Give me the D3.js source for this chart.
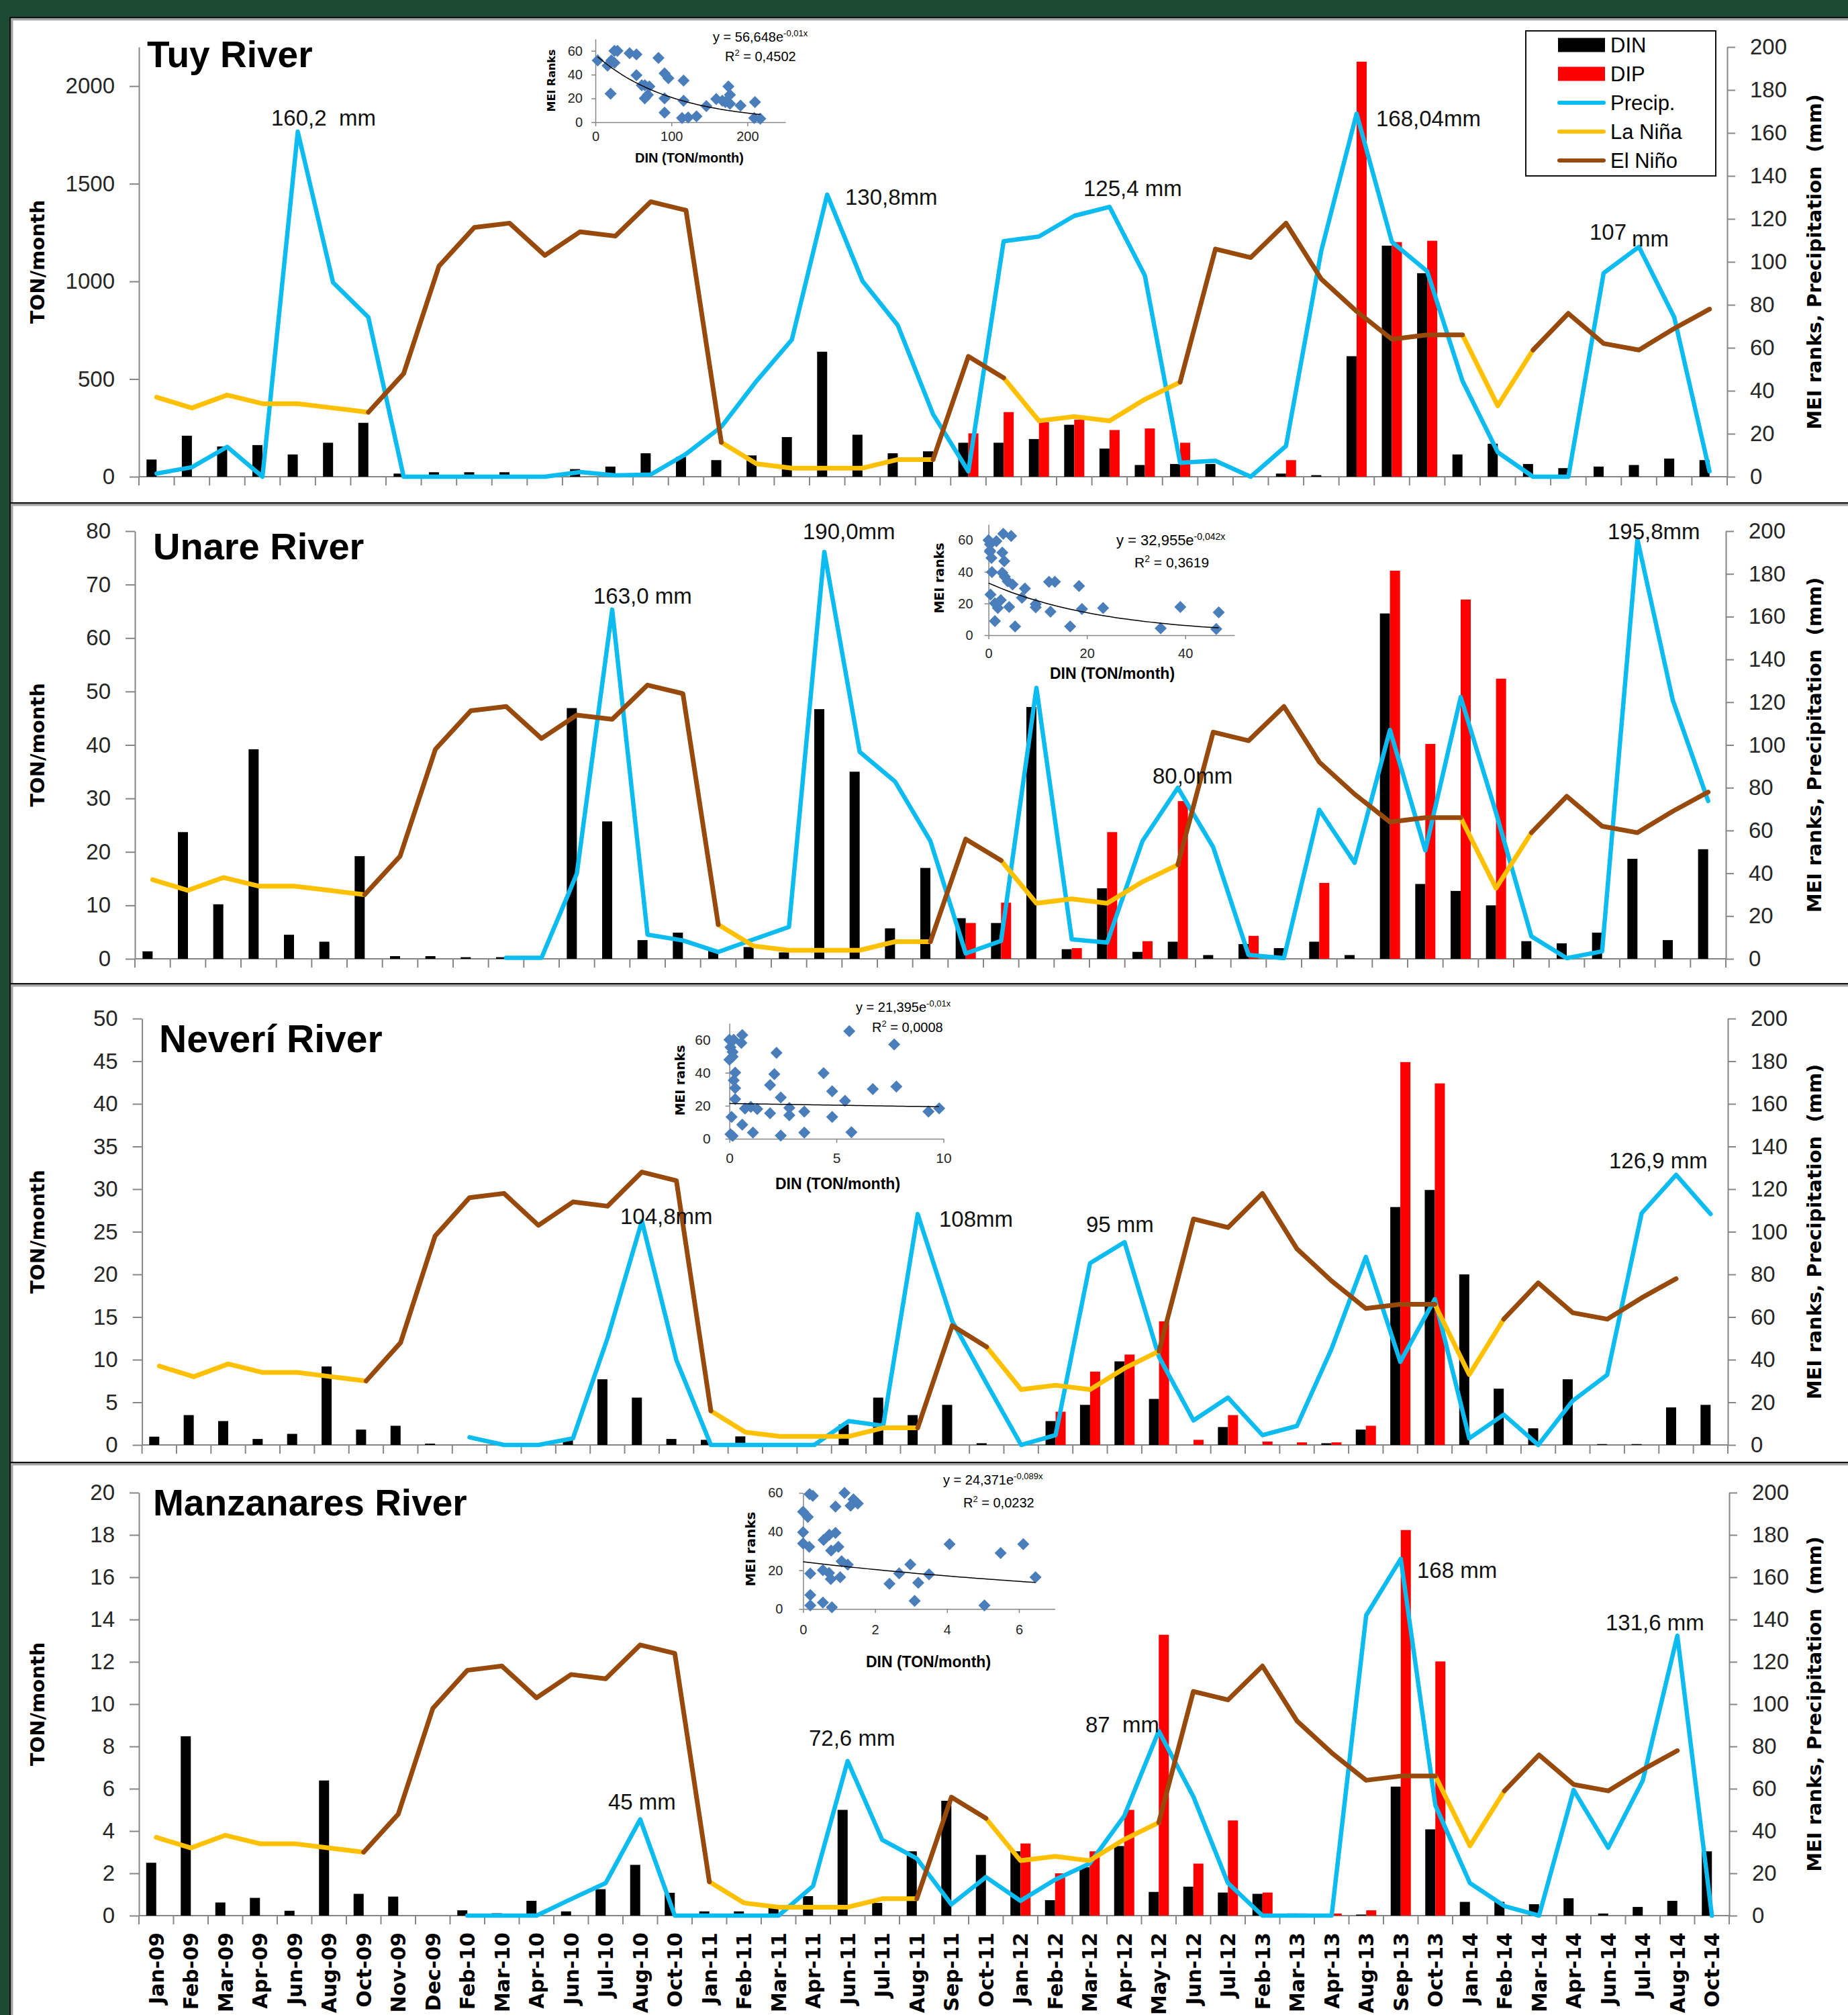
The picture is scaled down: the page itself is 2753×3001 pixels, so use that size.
<!DOCTYPE html>
<html>
<head>
<meta charset="utf-8">
<script src="https://cdn.jsdelivr.net/npm/d3@7"></script>
<style>
  body { margin: 0; background: #1c4a32; }
  svg { display: block; }
  text { font-family: "Liberation Sans", Arial, sans-serif; white-space: pre; }
</style>
</head>
<body>
<svg width="2753" height="3001"></svg>
<script>
// ---- categories (Tuy and Unare stop at Aug-14) ----
var months = ["Jan-09","Feb-09","Mar-09","Apr-09","Jun-09","Aug-09","Oct-09","Nov-09","Dec-09","Feb-10",
  "Mar-10","Apr-10","Jun-10","Jul-10","Aug-10","Oct-10","Jan-11","Feb-11","Mar-11","Apr-11",
  "Jun-11","Jul-11","Aug-11","Sep-11","Oct-11","Jan-12","Feb-12","Mar-12","Apr-12","May-12",
  "Jun-12","Jul-12","Feb-13","Mar-13","Apr-13","Aug-13","Sep-13","Oct-13","Jan-14","Feb-14",
  "Mar-14","Apr-14","Jun-14","Jul-14","Aug-14","Oct-14"];

var legendKeys = ["DIN", "DIP", "Precip.", "La Niña", "El Niño"];

// MEI ranks, same for every river
var laNina = [37,32,38,34,34,32,30,null,null,null, null,null,null,null,null,null,16,6,4,4,
  4,8,8,null,46,26,28,26,36,44, null,null,null,null,null,null,null,66,33,59,
  null,null,null,null,null,null];
var elNino = [null,null,null,null,null,null,30,48,98,116, 118,103,114,112,128,124,16,null,null,null,
  null,null,8,56,46,null,null,null,null,44, 106,102,118,92,77,64,66,66,null,59,
  76,62,59,69,78,null];

// ---- Tuy River ----
var tuyDIN = [88,210,155,162,114,174,276,16,23,23, 23,8,39,52,120,101,85,109,203,640,
  215,120,130,174,174,193,266,144,60,65, 65,0,16,8,617,1183,1042,114,169,65, 44,52,60,93,85];
var tuyDIP = [null,null,null,null,null,null,null,null,null,null, null,null,null,null,null,null,null,null,null,null,
  null,null,null,222,331,279,292,239,247,174, null,null,85,null,2125,1201,1208,null,null,null, null,null,null,null,null];
var tuyPrecip = [1.5,4.4,13.9,0,160.6,90.4,74.2,0,0,0, 0,0,2.2,0.6,1,10.6,23.2,44.6,63.8,131.3,
  91.1,70.5,29.1,2.5,109.6,111.8,121.4,125.6,93.7,6.5, 7.4,0,14.3,105.2,169,109.3,95.6,44.6,11.4,0, 0,94.8,107,74.2,2.5];
var tuyScatterDIN = [3,16,21,25,25,29,20,45,54,54,61,65,71,65,69,83,91,96,91,91,116,116,114,122,133,146,159,167,175,177,171,177,191,210,209,217];
var tuyScatterMEI = [52,47.5,52,50,60,60,24,58,57,39.5,31,31,30,20,23,54,41,37,20,8,35,18,3.5,4,5,13.6,19.5,18,30,23,17,15.5,14,17,3.5,3];
var tuyTrend = [56.648, -0.01];
var tuyEq = ["y = 56,648e", "-0,01x", "R", "2", " = 0,4502"];

// ---- Unare River ----
var unareDIN = [1.4,23.7,10.2,39.2,4.5,3.2,19.2,0.5,0.5,0.3, 0.3,0.2,46.9,25.7,3.5,4.9,1.5,2.2,1.2,46.7,
  35,5.7,17,7.6,6.7,47.1,1.8,13.2,1.3,3.2, 0.7,2.75,2,3.2,0.7,64.6,14,12.7,10,3.3, 2.9,4.9,18.7,3.5,20.5];
var unareDIP = [null,null,null,null,null,null,null,null,null,null, null,null,null,null,null,null,null,null,null,null,
  null,null,null,6.7,10.5,null,2,23.7,3.3,29.5, null,4.3,null,14.2,null,72.6,40.2,67.2,52.4,null, null,null,null,null,null];
var unarePrecip = [null,null,null,null,null,null,null,null,null,null, 0.5,0.5,39.8,163.3,11.3,8.6,3.2,9.1,14.9,190.3,
  96.8,82.9,55.1,2.5,8.4,126.7,9.1,7.6,55.1,80, 52.2,1.8,0.3,69.7,44.9,107,50.7,122.4,68.3,10.5, 0.3,3.5,196.2,120.9,73.8];
var unareScatterDIN = [0,0.3,0.6,1.6,0.3,2.8,3.2,3,4.6,0.7,2.8,3.3,3.9,4.9,0.4,1.3,1.9,2.5,4.2,1.3,5.4,7.4,6.8,9.6,9.6,12.6,12.3,13.5,18.4,19,16.6,23.3,35,39,46.3,46.8,0.3];
var unareScatterMEI = [60,52.7,48.8,59.4,53.5,52.2,46.8,64.1,62.7,39.9,39.5,37,34,32,25.7,20.2,17.2,22.2,17.8,8.9,5.5,29.5,23.6,19.6,17.6,14.8,33.7,33.7,31.1,16.5,5.5,17.2,4.3,17.8,3.9,14.4,57.4];
var unareTrend = [32.955, -0.042];
var unareEq = ["y = 32,955e", "-0,042x", "R", "2", " = 0,3619"];

// ---- Neverí River ----
var neveriDIN = [0.97,3.5,2.8,0.7,1.3,9.2,1.8,2.25,0.15,0, 0.2,0,0.6,7.7,5.55,0.7,0.6,1.0,0,0,
  2.4,5.55,3.5,4.7,0.2,0,2.8,4.7,9.8,5.4, 0,2.1,0,0,0.2,1.8,27.9,29.9,20,6.6, 1.95,7.7,0.1,0.1,4.4,4.7];
var neveriDIP = [null,null,null,null,null,null,null,null,null,null, null,null,null,null,null,null,null,null,null,null,
  null,null,null,null,null,null,3.9,8.6,10.6,14.5, 0.6,3.5,0.4,0.3,0.3,2.25,44.9,42.4,null,null, null,null,null,null,null,null];
var neveriPrecip = [null,null,null,null,null,null,null,null,null,3.6, 0,0,3.1,50,105,39.8,0,0,0,0,
  11.2,9,108.3,58.1,28.8,0,4.6,85.3,95.1,41.3, 11.5,22.2,4.6,8.9,44.9,88.2,39,68.4,3.1,14.2, 0,20.7,32.9,108.7,126.7,108.3];
var neveriScatterDIN = [0,0.2,0.05,0.15,0,0.15,0.6,0.56,0.27,0.2,0.27,0.27,0.73,1.0,1.3,0.1,0.6,0.05,0.15,1.1,2.2,1.9,2.1,1.9,2.4,2.8,2.8,2.4,3.5,3.5,4.4,4.8,4.8,5.4,5.7,5.6,6.7,7.8,7.7,9.3,9.8];
var neveriScatterMEI = [60,60,55.4,52.6,47.9,49.8,62.9,58.1,40.1,35.4,30.7,24,18.3,19.3,18,13.2,8.5,2.7,1.7,3.8,52.1,32.6,39.2,15.5,25,18.7,14.2,1.9,16.5,3.8,39.8,28.8,13.2,23,4,65.2,30.1,31.6,57.2,16.5,18.4];
var neveriTrend = [21.395, -0.01];
var neveriEq = ["y = 21,395e", "-0,01x", "R", "2", " = 0,0008"];

// ---- Manzanares River ----
var manzDIN = [2.5,8.48,0.62,0.84,0.23,6.39,1.03,0.9,0,0.25, 0.11,0.7,0.2,1.25,2.4,1.08,0.2,0.2,0.5,0.92,
  5.0,0.6,3.04,5.43,2.87,3.04,0.73,2.29,3.29,1.12, 1.37,1.09,1.03,0.1,0,0.05,6.1,4.08,0.65,0.65, 0.54,0.82,0.1,0.41,0.7,3.04];
var manzDIP = [null,null,null,null,null,null,null,null,null,null, null,null,null,null,null,null,null,null,null,null,
  null,null,null,null,null,3.41,2.0,3.04,5.0,13.28, 2.46,4.5,1.09,0.1,0.1,0.25,18.23,12.02,null,null, null,null,null,null,null,null];
var manzPrecip = [null,null,null,null,null,null,null,null,null,0, 0,0,7.8,15.4,45.5,0,0,0,0,14,
  73.1,35.8,27,5.3,18.2,7,17,24.6,47.1,87.3, 56.3,15.4,0,0,0,142,168.7,52.2,15.4,4.5, 0,59.4,32.1,63.9,132.4,0];
var manzScatterDIN = [0.18,0.27,0,0.13,0,0,0.17,0.57,0.73,0.9,0.78,0.98,0.9,1.15,1.32,1.4,1.52,1.07,1.24,0.2,0.55,0.72,0.77,1.03,0.2,0.2,0.55,0.8,2.4,2.67,2.98,3.2,3.1,3.5,4.07,5.04,5.49,6.12,6.46];
var manzScatterMEI = [59.4,58.5,50.3,47.6,39.7,33.9,32.1,35.7,38.4,39.3,30.2,32.1,53,60,53.4,56.7,54.5,24.7,22.9,18.3,20.1,18.6,15.5,16.4,7.2,1.8,3.3,0.9,13,18.4,23,13.6,4.2,17.9,33.5,1.8,28.9,33.5,16.4];
var manzTrend = [24.371, -0.089];
var manzEq = ["y = 24,371e", "-0,089x", "R", "2", " = 0,0232"];

// ---- colours ----
var cDIN = "#000000", cDIP = "#ff0000", cPrecip = "#0cbcf0", cNina = "#ffc000", cNino = "#974a0b";
var axisGray = "#868686", tickText = "#262626";
var fmt = d3.format("d");

var svg = d3.select("svg");

// panel frames
var frames = [[25, 748], [748, 1464], [1464, 2177], [2177, 3001]];
frames.forEach(function(f) {
  svg.append("rect").attr("x", 14).attr("y", f[0]).attr("width", 2739).attr("height", f[1] - f[0]).attr("fill", "#fff");
  svg.append("rect").attr("x", 14).attr("y", f[0]).attr("width", 2739).attr("height", 2.5).attr("fill", "#111");
  svg.append("rect").attr("x", 14).attr("y", f[0]).attr("width", 2.5).attr("height", f[1] - f[0]).attr("fill", "#111");
  svg.append("rect").attr("x", 16.5).attr("y", f[0] + 2.5).attr("width", 2737).attr("height", 3).attr("fill", "#a6a6a6");
  svg.append("rect").attr("x", 16.5).attr("y", f[0] + 2.5).attr("width", 3).attr("height", f[1] - f[0]).attr("fill", "#a6a6a6");
});

var panels = [
  {title: "Tuy River", n: 45, din: tuyDIN, dip: tuyDIP, precip: tuyPrecip, leftMax: 2200, leftTicks: d3.range(0, 2001, 500),
   left: 207, right: 2573, y0: 710, y1: 70, tx: 219, ty: 100, tsize: 55, legend: true,
   notes: [["160,2  mm", 404, 187], ["130,8mm", 1259, 305], ["125,4 mm", 1614, 292], ["168,04mm", 2050, 188], ["107", 2368, 357], ["mm", 2431, 367]],
   inset: {sx: tuyScatterDIN, sy: tuyScatterMEI, trend: tuyTrend, eq: tuyEq, x0: 887, x1: 1170, xd: [0, 250], xt: [0, 100, 200],
     y0: 182, y1: 58, yd: [0, 70], yt: [0, 20, 40, 60], fs: 20, padX: 13, padY: 8,
     yTitle: ["MEI Ranks", 821, 120, 16], xTitle: [1027, 235, 20], eqPos: [1062, 62, 20], r2Pos: [1080, 91, 20]}},
  {title: "Unare River", n: 45, din: unareDIN, dip: unareDIP, precip: unarePrecip, leftMax: 80, leftTicks: d3.range(0, 81, 10),
   left: 201, right: 2571, y0: 1428, y1: 791, tx: 228, ty: 833, tsize: 56,
   notes: [["163,0 mm", 884, 899], ["190,0mm", 1196, 803], ["80,0mm", 1717, 1167], ["195,8mm", 2395, 803]],
   inset: {sx: unareScatterDIN, sy: unareScatterMEI, trend: unareTrend, eq: unareEq, x0: 1472.6, x1: 1839, xd: [0, 50], xt: [0, 20, 40],
     y0: 946, y1: 781, yd: [0, 70], yt: [0, 20, 40, 60], fs: 20, padX: 17, padY: 14,
     yTitle: ["MEI ranks", 1399, 861, 19], xTitle: [1657, 1003, 23], eqPos: [1663, 812, 22], r2Pos: [1690, 845, 21]}},
  {title: "Neverí River", n: 46, din: neveriDIN, dip: neveriDIP, precip: neveriPrecip, leftMax: 50, leftTicks: d3.range(0, 51, 5),
   left: 211.6, right: 2574, y0: 2152, y1: 1517, tx: 237, ty: 1567, tsize: 57,
   notes: [["104,8mm", 924, 1823], ["108mm", 1399, 1827], ["95 mm", 1618, 1835], ["126,9 mm", 2397, 1740]],
   inset: {sx: neveriScatterDIN, sy: neveriScatterMEI, trend: neveriTrend, eq: neveriEq, x0: 1086.6, x1: 1405.5, xd: [0, 10], xt: [0, 5, 10],
     y0: 1696, y1: 1524, yd: [0, 70], yt: [0, 20, 40, 60], fs: 21, padX: 22, padY: 15,
     yTitle: ["MEI ranks", 1013, 1609, 19], xTitle: [1248, 1763, 23], eqPos: [1275, 1507, 20], r2Pos: [1299, 1537, 20]}},
  {title: "Manzanares River", n: 46, din: manzDIN, dip: manzDIP, precip: manzPrecip, leftMax: 20, leftTicks: d3.range(0, 21, 2),
   left: 207, right: 2576, y0: 2853, y1: 2223, tx: 228, ty: 2257, tsize: 55, xLabels: true,
   notes: [["45 mm", 906, 2695], ["72,6 mm", 1205, 2600], ["87  mm", 1617, 2580], ["168 mm", 2111, 2350], ["131,6 mm", 2392, 2428]],
   inset: {sx: manzScatterDIN, sy: manzScatterMEI, trend: manzTrend, eq: manzEq, x0: 1196.4, x1: 1571.6, xd: [0, 7], xt: [0, 2, 4, 6],
     y0: 2396.3, y1: 2223.5, yd: [0, 60], yt: [0, 20, 40, 60], fs: 20, padX: 24, padY: 18,
     yTitle: ["MEI ranks", 1118, 2307, 20], xTitle: [1383, 2475, 23], eqPos: [1405, 2211, 20], r2Pos: [1435, 2245, 20]}}
];

function styleAxis(sel, size) {
  sel.select(".domain").attr("stroke", axisGray).attr("stroke-width", 2);
  sel.selectAll(".tick line").attr("stroke", axisGray).attr("stroke-width", 2);
  sel.selectAll(".tick text").attr("fill", tickText).style("font-size", size + "px")
    .style("font-family", "'Liberation Sans', Arial, sans-serif");
}

panels.forEach(function(p) {
  var cats = months.slice(0, p.n);
  var x = d3.scaleBand().domain(cats).range([p.left, p.right]);
  var bw = x.bandwidth();
  var xSub = d3.scaleBand().domain(["DIN", "DIP"]).range([bw / 2 - 15, bw / 2 + 15]);
  var yL = d3.scaleLinear().domain([0, p.leftMax]).range([p.y0, p.y1]);
  var yR = d3.scaleLinear().domain([0, 200]).range([p.y0, p.y1]);
  var g = svg.append("g");

  // axes
  g.append("g").attr("transform", "translate(" + p.left + ",0)")
    .call(d3.axisLeft(yL).tickValues(p.leftTicks).tickFormat(fmt).tickSize(14).tickSizeOuter(0).tickPadding(22))
    .call(styleAxis, 33);
  g.append("g").attr("transform", "translate(" + p.right + ",0)")
    .call(d3.axisRight(yR).tickValues(d3.range(0, 201, 20)).tickFormat(fmt).tickSize(12).tickSizeOuter(0).tickPadding(22))
    .call(styleAxis, 33);
  g.append("line").attr("x1", p.left).attr("x2", p.right).attr("y1", p.y0).attr("y2", p.y0)
    .attr("stroke", axisGray).attr("stroke-width", 2);
  g.append("g").selectAll("line").data(cats.map(function(c) { return x(c); }).concat([p.right])).join("line")
    .attr("x1", function(d) { return d; }).attr("x2", function(d) { return d; })
    .attr("y1", p.y0).attr("y2", p.y0 + 13).attr("stroke", axisGray).attr("stroke-width", 2);

  // axis titles
  g.append("text").attr("transform", "translate(56," + (p.y0 + p.y1) / 2 + ") rotate(-90)")
    .attr("text-anchor", "middle").attr("dy", "0.35em")
    .style("font-family", "'DejaVu Sans', sans-serif").style("font-weight", "bold").style("font-size", "29px")
    .text("TON/month");
  g.append("text").attr("transform", "translate(2703," + (p.y0 + p.y1) / 2 + ") rotate(-90)")
    .attr("text-anchor", "middle").attr("dy", "0.35em")
    .style("font-family", "'DejaVu Sans', sans-serif").style("font-weight", "bold").style("font-size", "29px")
    .text("MEI ranks, Precipitation  (mm)");

  // bars
  g.append("g").selectAll("g").data(cats).join("g")
    .attr("transform", function(c) { return "translate(" + x(c) + ",0)"; })
    .selectAll("rect")
    .data(function(c, i) {
      return [{k: "DIN", v: p.din[i]}, {k: "DIP", v: p.dip[i]}].filter(function(d) { return d.v != null; });
    })
    .join("rect")
      .attr("x", function(d) { return xSub(d.k); })
      .attr("width", xSub.bandwidth())
      .attr("y", function(d) { return yL(d.v); })
      .attr("height", function(d) { return p.y0 - yL(d.v); })
      .attr("fill", function(d) { return d.k == "DIN" ? cDIN : cDIP; });

  // lines
  var line = d3.line()
    .defined(function(d) { return d.v != null; })
    .x(function(d) { return x(d.c) + bw / 2; })
    .y(function(d) { return yR(d.v); });
  function series(arr) { return cats.map(function(c, i) { return {c: c, v: arr[i]}; }); }
  [[p.precip, cPrecip, 6.5], [laNina, cNina, 7], [elNino, cNino, 7]].forEach(function(s) {
    g.append("path").datum(series(s[0])).attr("d", line)
      .attr("fill", "none").attr("stroke", s[1]).attr("stroke-width", s[2])
      .attr("stroke-linejoin", "round").attr("stroke-linecap", "round");
  });

  // title and precipitation notes
  g.append("text").attr("x", p.tx).attr("y", p.ty)
    .style("font-weight", "bold").style("font-size", p.tsize + "px").text(p.title);
  g.append("g").selectAll("text").data(p.notes).join("text")
    .attr("x", function(d) { return d[1]; }).attr("y", function(d) { return d[2]; })
    .style("font-size", "33px").attr("fill", "#111").text(function(d) { return d[0]; });

  // x labels
  if (p.xLabels) {
    g.append("g").selectAll("text").data(cats).join("text")
      .attr("transform", function(c) { return "translate(" + (x(c) + bw / 2) + "," + (p.y0 + 25) + ") rotate(-90)"; })
      .attr("text-anchor", "end").attr("dy", "0.36em")
      .style("font-family", "'DejaVu Sans', sans-serif").style("font-weight", "bold").style("font-size", "30px")
      .text(function(c) { return c; });
  }

  // legend
  if (p.legend) {
    var lg = g.append("g");
    lg.append("rect").attr("x", 2273).attr("y", 46).attr("width", 283).attr("height", 216)
      .attr("fill", "#fff").attr("stroke", "#111").attr("stroke-width", 2);
    var colors = [cDIN, cDIP, cPrecip, cNina, cNino];
    var items = lg.selectAll("g").data(legendKeys).join("g")
      .attr("transform", function(d, i) { return "translate(0," + (67 + i * 43) + ")"; });
    items.each(function(d, i) {
      var it = d3.select(this);
      if (i < 2) it.append("rect").attr("x", 2321).attr("y", -10.5).attr("width", 70).attr("height", 21).attr("fill", colors[i]);
      else it.append("line").attr("x1", 2323).attr("x2", 2389).attr("stroke", colors[i]).attr("stroke-width", 6).attr("stroke-linecap", "round");
    });
    items.append("text").attr("x", 2399).attr("dy", "0.35em").style("font-size", "31px").text(function(d) { return d; });
  }

  // inset scatter
  var s = p.inset;
  var ix = d3.scaleLinear().domain(s.xd).range([s.x0, s.x1]);
  var iy = d3.scaleLinear().domain(s.yd).range([s.y0, s.y1]);
  var ig = g.append("g");
  ig.append("g").attr("transform", "translate(0," + s.y0 + ")")
    .call(d3.axisBottom(ix).tickValues(s.xt).tickFormat(fmt).tickSize(6).tickSizeOuter(0).tickPadding(s.padY))
    .call(styleAxis, s.fs);
  ig.append("g").attr("transform", "translate(" + s.x0 + ",0)")
    .call(d3.axisLeft(iy).tickValues(s.yt).tickFormat(fmt).tickSize(6).tickSizeOuter(0).tickPadding(s.padX))
    .call(styleAxis, s.fs);
  ig.selectAll(".domain, .tick line").attr("stroke-width", 1.5);
  ig.append("g").selectAll("path").data(s.sx).join("path")
    .attr("transform", function(d, i) { return "translate(" + ix(d) + "," + iy(s.sy[i]) + ")"; })
    .attr("d", "M0,-9L9,0L0,9L-9,0Z").attr("fill", "#4a7ebb");
  var tx = d3.range(d3.min(s.sx), d3.max(s.sx), (d3.max(s.sx) - d3.min(s.sx)) / 40).concat([d3.max(s.sx)]);
  ig.append("path").datum(tx)
    .attr("d", d3.line().x(function(d) { return ix(d); }).y(function(d) { return iy(s.trend[0] * Math.exp(s.trend[1] * d)); }))
    .attr("fill", "none").attr("stroke", "#000").attr("stroke-width", 1.5);
  ig.append("text").attr("transform", "translate(" + s.yTitle[1] + "," + s.yTitle[2] + ") rotate(-90)")
    .attr("text-anchor", "middle").attr("dy", "0.35em")
    .style("font-family", "'DejaVu Sans', sans-serif").style("font-weight", "bold").style("font-size", s.yTitle[3] + "px")
    .text(s.yTitle[0]);
  ig.append("text").attr("x", s.xTitle[0]).attr("y", s.xTitle[1]).attr("text-anchor", "middle").attr("dy", "0.35em")
    .style("font-weight", "bold").style("font-size", s.xTitle[2] + "px").text("DIN (TON/month)");
  var eq = ig.append("text").attr("x", s.eqPos[0]).attr("y", s.eqPos[1]).style("font-size", s.eqPos[2] + "px");
  eq.append("tspan").text(s.eq[0]);
  eq.append("tspan").attr("dy", -8).style("font-size", Math.round(s.eqPos[2] * 0.65) + "px").text(s.eq[1]);
  var r2 = ig.append("text").attr("x", s.r2Pos[0]).attr("y", s.r2Pos[1]).style("font-size", s.r2Pos[2] + "px");
  r2.append("tspan").text(s.eq[2]);
  r2.append("tspan").attr("dy", -8).style("font-size", Math.round(s.r2Pos[2] * 0.65) + "px").text(s.eq[3]);
  r2.append("tspan").attr("dy", 8).text(s.eq[4]);
});
</script>
</body>
</html>
